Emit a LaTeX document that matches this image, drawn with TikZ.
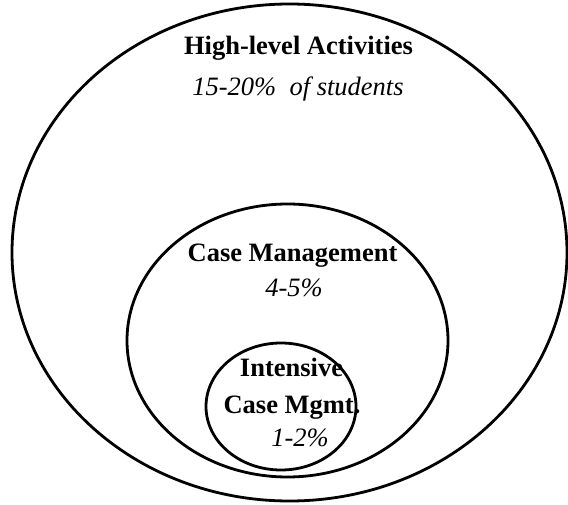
\documentclass[tikz,border=0pt]{standalone}
\usepackage{fontspec}
\setmainfont{Liberation Serif}
\begin{document}
\begin{tikzpicture}[x=1pt,y=-1pt,
  ring/.style={line width=2.8pt,draw=black},
  bold/.style={font=\fontsize{26.5}{30}\selectfont\bfseries,anchor=base,inner sep=0pt},
  ital/.style={font=\fontsize{26.5}{30}\selectfont\itshape,anchor=base,inner sep=0pt}]
\useasboundingbox (0,0) rectangle (568,505);
\draw[ring] (289.5,252.5) ellipse [x radius=277.5, y radius=248.5];
\draw[ring] (287.5,340.5) ellipse [x radius=160.5, y radius=136.5];
\draw[ring] (281,406.5) ellipse [x radius=75, y radius=63.5];
\node[bold] (t1) at (298.5,55) {High-level Activities};
\node[ital] (t2) at (298,96) {15-20\%\ \ of students};
\node[bold] (t3) at (292.5,262) {Case Management};
\node[ital] (t4) at (294,297) {4-5\%};
\node[bold] (t5) at (291.5,376) {Intensive};
\node[bold] (t6) at (292,413) {Case Mgmt.};
\node[ital] (t7) at (300,446) {1-2\%};
\end{tikzpicture}
\end{document}
